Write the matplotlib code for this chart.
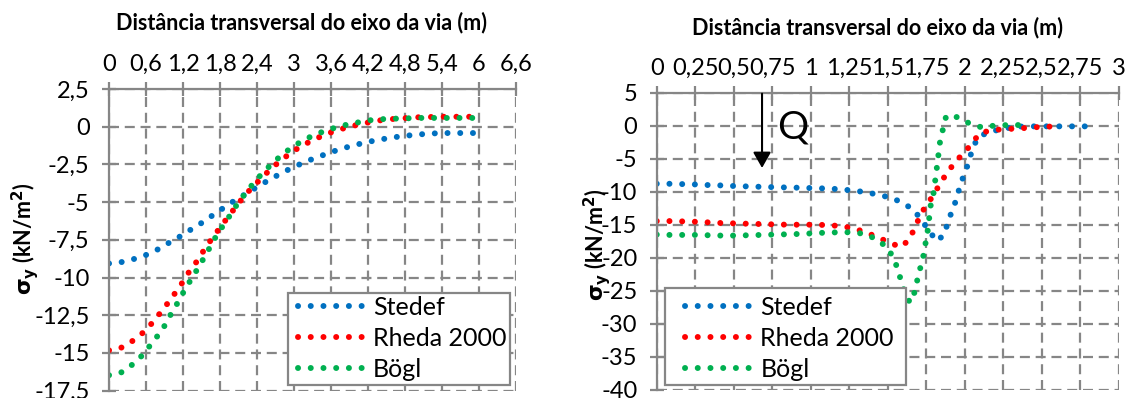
import matplotlib
matplotlib.use("Agg")
import matplotlib.pyplot as plt
from matplotlib.patches import Rectangle

plt.rcParams["font.family"] = ["Lato", "DejaVu Sans"]
plt.rcParams["mathtext.fontset"] = "dejavusans"

# ---------------------------------------------------------------- data
series_names = ["Stedef", "Rheda 2000", "Bögl"]
series_colors = ["#0070C0", "#FF0000", "#00B050"]
axis_title = "Distância transversal do eixo da via (m)"

# left panel: stress along the transverse distance (0 .. 6 m)
left_x_ticks = [0, 0.6, 1.2, 1.8, 2.4, 3, 3.6, 4.2, 4.8, 5.4, 6, 6.6]
left_x_labels = ["0", "0,6", "1,2", "1,8", "2,4", "3", "3,6", "4,2", "4,8", "5,4", "6", "6,6"]
left_y_ticks = [2.5, 0, -2.5, -5, -7.5, -10, -12.5, -15, -17.5]
left_y_labels = ["2,5", "0", "-2,5", "-5", "-7,5", "-10", "-12,5", "-15", "-17,5"]

left_stedef_x = [0, 0.2, 0.4, 0.61, 0.8, 0.98, 1.16, 1.34, 1.53, 1.7, 1.87, 2.04, 2.23,
                 2.41, 2.59, 2.77, 2.96, 3.15, 3.35, 3.55, 3.75, 3.95, 4.16, 4.36, 4.57,
                 4.77, 4.98, 5.19, 5.4, 5.62, 5.83, 6.04]
left_stedef_y = [-9.07, -8.98, -8.78, -8.49, -8.12, -7.68, -7.26, -6.79, -6.31, -5.82,
                 -5.35, -4.89, -4.43, -3.98, -3.54, -3.14, -2.74, -2.39, -2.06, -1.77,
                 -1.48, -1.26, -1.04, -0.88, -0.73, -0.62, -0.53, -0.46, -0.42, -0.42,
                 -0.42, -0.42]

left_rheda_x = [0, 0.2, 0.38, 0.545, 0.69, 0.825, 0.955, 1.08, 1.2, 1.31, 1.44, 1.55,
                1.67, 1.8, 1.92, 2.05, 2.18, 2.32, 2.47, 2.62, 2.78, 2.95, 3.12, 3.31,
                3.51, 3.71, 3.9, 4.11, 4.32, 4.53, 4.75, 4.95, 5.17, 5.38, 5.58, 5.8, 6.02]
left_rheda_y = [-14.83, -14.65, -14.21, -13.68, -13.06, -12.38, -11.69, -10.99, -10.28,
                -9.55, -8.85, -8.12, -7.41, -6.7, -6.04, -5.35, -4.67, -4.03, -3.43,
                -2.81, -2.26, -1.73, -1.28, -0.88, -0.51, -0.22, 0.0, 0.2, 0.38, 0.49,
                0.55, 0.62, 0.64, 0.66, 0.66, 0.66, 0.66]

left_bogl_x = [0, 0.2, 0.37, 0.53, 0.66, 0.79, 0.91, 1.01, 1.12, 1.22, 1.33, 1.44, 1.55,
               1.65, 1.75, 1.87, 1.99, 2.1, 2.23, 2.36, 2.51, 2.66, 2.82, 2.98, 3.16,
               3.36, 3.55, 3.75, 3.96, 4.18, 4.37, 4.59, 4.8, 5.01, 5.22, 5.43, 5.65,
               5.86, 6.06]
left_bogl_y = [-16.48, -16.29, -15.8, -15.2, -14.54, -13.86, -13.15, -12.38, -11.63,
               -10.88, -10.13, -9.4, -8.63, -7.9, -7.17, -6.44, -5.71, -5.0, -4.34,
               -3.65, -2.99, -2.39, -1.81, -1.33, -0.88, -0.49, -0.22, 0.04, 0.22, 0.4,
               0.49, 0.53, 0.55, 0.58, 0.58, 0.58, 0.58, 0.58, 0.58]

# right panel: stress close to the load (0 .. 3 m)
right_x_ticks = [0, 0.25, 0.5, 0.75, 1, 1.25, 1.5, 1.75, 2, 2.25, 2.5, 2.75, 3]
right_x_labels = ["0", "0,25", "0,5", "0,75", "1", "1,25", "1,5", "1,75", "2", "2,25",
                  "2,5", "2,75", "3"]
right_y_ticks = [5, 0, -5, -10, -15, -20, -25, -30, -35, -40]
right_y_labels = ["5", "0", "-5", "-10", "-15", "-20", "-25", "-30", "-35", "-40"]

right_stedef_x = [0, 0.086, 0.17, 0.25, 0.34, 0.42, 0.51, 0.59, 0.68, 0.76, 0.85, 0.93,
                  1.02, 1.1, 1.19, 1.27, 1.36, 1.44, 1.52, 1.6, 1.67, 1.72, 1.77, 1.82,
                  1.87, 1.89, 1.92, 1.95, 1.97, 2.0, 2.03, 2.05, 2.09, 2.16, 2.245, 2.33,
                  2.41, 2.5, 2.58, 2.66, 2.75, 2.84]
right_stedef_y = [-8.8, -8.8, -8.85, -8.9, -9.0, -9.05, -9.15, -9.2, -9.26, -9.31, -9.36,
                  -9.4, -9.46, -9.51, -9.62, -9.82, -10.07, -10.48, -10.9, -11.7, -12.8,
                  -14.3, -16.0, -17.5, -16.4, -14.6, -12.8, -10.9, -9.0, -7.2, -5.3,
                  -3.4, -1.7, -0.92, -0.51, -0.15, -0.1, -0.1, -0.1, -0.1, -0.1, -0.1]

right_rheda_x = [0, 0.086, 0.17, 0.25, 0.34, 0.42, 0.51, 0.59, 0.68, 0.76, 0.85, 0.93,
                 1.02, 1.1, 1.19, 1.27, 1.35, 1.43, 1.51, 1.585, 1.64, 1.675, 1.71, 1.75,
                 1.8, 1.84, 1.89, 1.94, 2.0, 2.05, 2.1, 2.18, 2.27, 2.36, 2.44, 2.53, 2.61]
right_rheda_y = [-14.45, -14.45, -14.5, -14.55, -14.65, -14.75, -14.8, -14.85, -14.9,
                 -14.95, -15.0, -15.0, -15.0, -15.05, -15.2, -15.5, -16.1, -16.85, -17.7,
                 -18.4, -17.25, -15.5, -13.7, -12.0, -10.5, -8.7, -7.05, -5.4, -4.05,
                 -2.54, -1.12, -0.66, -0.51, -0.41, -0.25, -0.15, -0.1]

right_bogl_x = [0, 0.086, 0.17, 0.25, 0.34, 0.42, 0.51, 0.59, 0.68, 0.76, 0.85, 0.93, 1.02,
                1.1, 1.19, 1.28, 1.36, 1.43, 1.5, 1.54, 1.57, 1.59, 1.62, 1.645, 1.67,
                1.69, 1.71, 1.73, 1.745, 1.76, 1.77, 1.78, 1.8, 1.81, 1.82, 1.83, 1.84,
                1.86, 1.88, 1.94, 2.03, 2.11, 2.19, 2.28, 2.36]
right_bogl_y = [-16.5, -16.55, -16.55, -16.55, -16.6, -16.65, -16.65, -16.6, -16.55,
                -16.5, -16.45, -16.4, -16.3, -16.2, -16.15, -16.15, -16.45, -17.25, -18.5,
                -20.2, -22.0, -23.9, -25.8, -26.8, -25.6, -23.6, -21.7, -19.9, -17.9,
                -15.9, -13.9, -11.9, -10.0, -8.0, -6.2, -4.3, -2.4, -0.4, 1.5, 1.4, 0.36,
                -0.25, 0.0, 0.1, 0.1]

# ---------------------------------------------------------------- style
W, H = 1127, 398
GRAY = "#868686"
DOT_LW = 4.3                       # dot diameter in points
DOT_STYLE = (0, (0.01, 2.12))      # round dots, period in line widths
TICK_FS = 17
LEGEND_FS = 18
TITLE_FS = 15.5
YLABEL_FS = 15.5

fig = plt.figure(figsize=(W / 100, H / 100), dpi=100)


def fx(px):
    return px / W


def fy(py):
    return 1 - py / H


def px_axes(x0, x1, ytop, ybot):
    return fig.add_axes([fx(x0), fy(ybot), (x1 - x0) / W, (ybot - ytop) / H])


def style_axes(ax, xt, xl, yt, yl, xlim, ylim):
    ax.set_xlim(*xlim)
    ax.set_ylim(*ylim)
    ax.set_xticks(xt)
    ax.set_xticklabels(xl)
    ax.set_yticks(yt)
    ax.set_yticklabels(yl)
    ax.xaxis.tick_top()
    for side in ("right", "bottom"):
        ax.spines[side].set_visible(False)
    for side in ("top", "left"):
        ax.spines[side].set_color(GRAY)
        ax.spines[side].set_linewidth(1.6)
    ax.tick_params(axis="both", direction="inout", length=10, width=1.6,
                   color=GRAY, labelsize=TICK_FS, labelcolor="black")
    ax.tick_params(axis="x", pad=5)
    ax.tick_params(axis="y", pad=9)
    ax.grid(True, color=GRAY, linewidth=1.6, linestyle=(0, (4.5, 2.6)))
    ax.set_axisbelow(True)


def dotted(ax, x, y, color, label):
    ax.plot(x, y, color=color, lw=DOT_LW, linestyle=DOT_STYLE,
            dash_capstyle="round", label=label, clip_on=True)


def add_legend(ax, box, handle_x, mid_y):
    # white framed box, then the entries on top of it
    x0, y0, x1, y1 = box
    ax.add_patch(Rectangle((fx(x0), fy(y1)), (x1 - x0) / W, (y1 - y0) / H,
                           transform=fig.transFigure, facecolor="white",
                           edgecolor=GRAY, linewidth=1.6, clip_on=False, zorder=4.5))
    ax.legend(loc="center left", bbox_to_anchor=(fx(handle_x), fy(mid_y)),
              bbox_transform=fig.transFigure, frameon=False,
              fontsize=LEGEND_FS, handlelength=2.62, handletextpad=0.4,
              labelspacing=0.32, borderpad=0, borderaxespad=0)


ylabel = r"$\mathbf{\sigma_y}$ (kN/m$\mathbf{^2}$)"

# ---------------------------------------------------------------- left panel
axL = px_axes(109, 516, 89, 390.6)
style_axes(axL, left_x_ticks, left_x_labels, left_y_ticks, left_y_labels,
           (0, 6.6), (-17.5, 2.5))
for xs, ys, c, n in zip((left_stedef_x, left_rheda_x, left_bogl_x),
                        (left_stedef_y, left_rheda_y, left_bogl_y),
                        series_colors, series_names):
    dotted(axL, xs, ys, c, n)
add_legend(axL, (288, 293, 510, 385), 297.6, 338.5)
fig.text(fx(302), fy(23), axis_title, ha="center", va="center",
         fontsize=TITLE_FS, fontweight="bold")
fig.text(fx(25), fy(239), ylabel, rotation=90, ha="center", va="center",
         fontsize=YLABEL_FS, fontweight="bold")

# ---------------------------------------------------------------- right panel
axR = px_axes(656.7, 1118.7, 92.7, 389.7)
style_axes(axR, right_x_ticks, right_x_labels, right_y_ticks, right_y_labels,
           (0, 3), (-40, 5))
for xs, ys, c, n in zip((right_stedef_x, right_rheda_x, right_bogl_x),
                        (right_stedef_y, right_rheda_y, right_bogl_y),
                        series_colors, series_names):
    dotted(axR, xs, ys, c, n)
add_legend(axR, (665, 288, 906, 385), 685, 338.5)
fig.text(fx(878), fy(28), axis_title, ha="center", va="center",
         fontsize=TITLE_FS, fontweight="bold")
fig.text(fx(597), fy(245), ylabel, rotation=90, ha="center", va="center",
         fontsize=YLABEL_FS, fontweight="bold")

# applied load
axR.annotate("", xy=(0.684, -6.4), xytext=(0.684, 4.85),
             arrowprops=dict(arrowstyle="-|>,head_width=0.54,head_length=0.95",
                             lw=1.5, color="black", shrinkA=0, shrinkB=0))
axR.text(0.88, -0.3, "Q", fontsize=28, ha="center", va="center")

fig.savefig("out.png", dpi=100)
